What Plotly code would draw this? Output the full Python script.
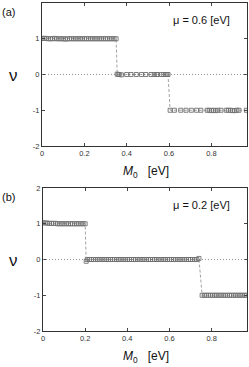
import plotly.graph_objects as go

W, H = 249, 367

# ---- data: panel (a), mu = 0.6 eV ----
a_x = [0.00, 0.01, 0.02, 0.03, 0.04, 0.05, 0.06, 0.07, 0.08, 0.09, 0.10, 0.11,
       0.12, 0.13, 0.14, 0.15, 0.16, 0.17, 0.18, 0.19, 0.20, 0.21, 0.22, 0.23,
       0.24, 0.25, 0.26, 0.27, 0.28, 0.29, 0.30, 0.31, 0.32, 0.33, 0.34, 0.35,
       0.355, 0.36, 0.365, 0.375, 0.40, 0.42, 0.445, 0.47, 0.49, 0.515, 0.53,
       0.54, 0.545, 0.565, 0.575, 0.585, 0.59, 0.595,
       0.605, 0.625, 0.655, 0.68, 0.705, 0.73, 0.75, 0.78, 0.79, 0.80, 0.81,
       0.82, 0.83, 0.845, 0.87, 0.88, 0.89, 0.90, 0.91, 0.92, 0.93, 0.965]
a_y = [1.01, 1.01, 1.01, 1.0, 1.0, 1.0, 1.01, 1.0, 1.0, 1.0, 1.0, 0.99,
       1.0, 1.0, 1.0, 1.0, 1.0, 1.0, 1.0, 1.0, 1.0, 1.0, 1.0, 1.0,
       1.0, 1.0, 1.0, 1.0, 1.0, 1.0, 1.0, 1.0, 1.0, 1.0, 1.0, 1.0,
       0.01, 0.0, 0.0, -0.01, 0.0, 0.0, 0.0, 0.0, 0.0, 0.0, 0.0,
       0.0, 0.0, 0.0, 0.0, 0.0, 0.0, 0.0,
       -1.0, -1.0, -1.0, -1.0, -1.0, -1.0, -1.0, -1.0, -1.0, -1.01, -1.0,
       -1.01, -1.0, -1.0, -1.0, -1.0, -1.0, -1.01, -1.01, -1.0, -1.0, -1.0]

# ---- data: panel (b), mu = 0.2 eV ----
b_x = [0.00, 0.01, 0.02, 0.03, 0.04, 0.05, 0.06, 0.07, 0.08, 0.09, 0.10,
       0.11, 0.12, 0.13, 0.14, 0.15, 0.16, 0.17, 0.18, 0.19, 0.20,
       0.205,
       0.21, 0.22, 0.23, 0.24, 0.25, 0.26, 0.27, 0.28, 0.29, 0.30, 0.31,
       0.32, 0.33, 0.34, 0.35, 0.36, 0.37, 0.38, 0.39, 0.40, 0.41, 0.42,
       0.43, 0.44, 0.45, 0.46, 0.47, 0.48, 0.49, 0.50, 0.51, 0.52, 0.53,
       0.54, 0.55, 0.56, 0.57, 0.58, 0.59, 0.60, 0.61, 0.62, 0.63, 0.64,
       0.65, 0.66, 0.67, 0.68, 0.69, 0.70, 0.71, 0.72, 0.73,
       0.74,
       0.755, 0.765, 0.775, 0.785, 0.795, 0.805, 0.815, 0.825, 0.835, 0.845,
       0.855, 0.865, 0.875, 0.885, 0.895, 0.905, 0.915, 0.925, 0.935, 0.945,
       0.955, 0.965]
b_y = [1.03, 1.02, 1.02, 1.01, 1.01, 1.01, 1.01, 1.0, 1.0, 1.0, 1.0,
       1.0, 1.0, 1.0, 1.0, 1.0, 1.0, 1.0, 1.0, 1.0, 1.0,
       -0.05,
       0.0, 0.0, 0.0, 0.0, 0.0, 0.0, 0.0, 0.0, 0.0, 0.0, 0.0,
       0.0, 0.0, 0.0, 0.0, 0.0, 0.0, 0.0, 0.0, 0.0, 0.0, 0.0,
       0.0, 0.0, 0.0, 0.0, 0.0, 0.0, 0.0, 0.0, 0.0, 0.0, 0.0,
       0.0, 0.0, 0.0, 0.0, 0.0, 0.0, 0.0, 0.0, 0.0, 0.0, 0.0,
       0.0, 0.0, 0.0, 0.0, 0.0, 0.0, 0.0, 0.0, 0.0,
       0.03,
       -1.0, -1.0, -1.0, -1.0, -1.0, -1.0, -1.0, -1.0, -1.0, -1.0,
       -1.0, -1.0, -1.0, -1.0, -1.0, -1.0, -1.0, -1.0, -1.0, -1.0,
       -1.0, -1.0]

x_ticks = [0, 0.2, 0.4, 0.6, 0.8]
x_tick_text = ["0", "0.2", "0.4", "0.6", "0.8"]
y_ticks = [-2, -1, 0, 1, 2]
y_tick_text = ["-2", "-1", "0", "1", "2"]
panel_labels = ["(a)", "(b)"]
mu_labels = ["\u03bc = 0.6 [eV]", "\u03bc = 0.2 [eV]"]


def px(x):
    return x / W


def py(y):
    return 1 - y / H


FONT = "Liberation Sans, Arial, sans-serif"
fig = go.Figure()

# panel geometry in pixels: (left, right, top, bottom)
panels = [(42, 247, 3, 146), (43, 247, 188, 331)]
data = [(a_x, a_y), (b_x, b_y)]

for i, ((l, r, t, b), (xs, ys)) in enumerate(zip(panels, data)):
    n = "" if i == 0 else str(i + 1)
    fig.add_trace(go.Scatter(
        x=xs, y=ys, mode="lines+markers",
        xaxis="x" + n, yaxis="y" + n,
        line=dict(color="#8a8a8a", width=0.8, dash="3px,2px"),
        marker=dict(symbol="square-open", size=4, color="#707070",
                    line=dict(width=0.9, color="#707070")),
        showlegend=False, hoverinfo="skip"))
    ax = dict(domain=[px(l), px(r)], range=[0, 0.968],
              tickvals=x_ticks, ticktext=x_tick_text,
              ticks="inside", ticklen=3, tickwidth=0.8, tickcolor="#444",
              mirror="ticks", showline=True, linecolor="#333", linewidth=1.3,
              showgrid=False, zeroline=False, automargin=False,
              tickfont=dict(family=FONT, size=7.5, color="#333"),
              anchor="y" + n)
    ay = dict(domain=[py(b), py(t)], range=[-2, 2],
              tickvals=y_ticks, ticktext=y_tick_text,
              ticks="inside", ticklen=3, tickwidth=0.8, tickcolor="#444",
              mirror="ticks", showline=True, linecolor="#333", linewidth=1.3,
              showgrid=False, zeroline=False, automargin=False,
              tickfont=dict(family=FONT, size=7.5, color="#333"),
              anchor="x" + n)
    fig.update_layout(**{"xaxis" + n: ax, "yaxis" + n: ay})
    # dotted reference line at nu = 0
    fig.add_shape(type="line", xref="x" + n + " domain", yref="y" + n,
                  x0=0, x1=1, y0=0, y1=0,
                  line=dict(color="#777", width=0.8, dash="1px,2px"))
    # labels
    fig.add_annotation(x=px(0), y=py(t + 9), xref="paper", yref="paper",
                       text=panel_labels[i], showarrow=False,
                       xanchor="left", yanchor="middle",
                       font=dict(family=FONT, size=11, color="#111"))
    fig.add_annotation(x=px(201), y=py(t + 17), xref="paper", yref="paper",
                       text=mu_labels[i], showarrow=False,
                       xanchor="center", yanchor="middle",
                       font=dict(family=FONT, size=11, color="#111"))
    fig.add_annotation(x=px(13), y=py((t + b) / 2 + 1), xref="paper", yref="paper",
                       text="\u03bd", showarrow=False,
                       xanchor="center", yanchor="middle",
                       font=dict(family=FONT, size=17, color="#111"))
    fig.add_annotation(x=px(146), y=py(b + 26), xref="paper", yref="paper",
                       text="<i>M</i><sub>0</sub>   [eV]", showarrow=False,
                       xanchor="center", yanchor="middle",
                       font=dict(family=FONT, size=12, color="#111"))

fig.update_layout(width=W, height=H, margin=dict(l=0, r=0, t=0, b=0),
                  paper_bgcolor="white", plot_bgcolor="white")

fig.write_html("out.html", config={"displayModeBar": False},
               post_script="document.body.style.margin='0';"
                           "document.body.style.padding='0';")
